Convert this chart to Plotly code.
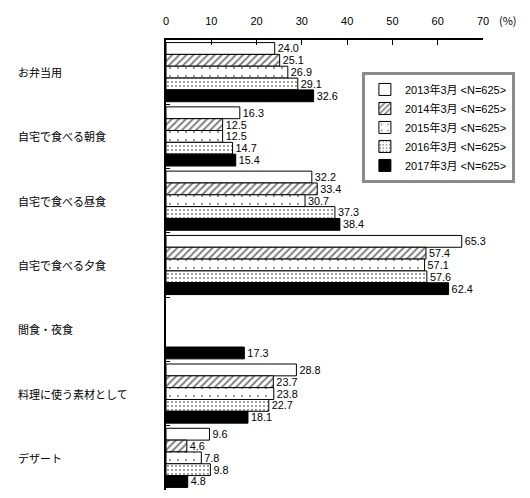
import plotly.graph_objects as go

categories = ["お弁当用", "自宅で食べる朝食", "自宅で食べる昼食", "自宅で食べる夕食",
              "間食・夜食", "料理に使う素材として", "デザート"]
series_names = ["2013年3月 <N=625>", "2014年3月 <N=625>", "2015年3月 <N=625>",
                "2016年3月 <N=625>", "2017年3月 <N=625>"]
v2013 = [24.0, 16.3, 32.2, 65.3, None, 28.8, 9.6]
v2014 = [25.1, 12.5, 33.4, 57.4, None, 23.7, 4.6]
v2015 = [26.9, 12.5, 30.7, 57.1, None, 23.8, 7.8]
v2016 = [29.1, 14.7, 37.3, 57.6, None, 22.7, 9.8]
v2017 = [32.6, 15.4, 38.4, 62.4, 17.3, 18.1, 4.8]
x_ticks = [0, 10, 20, 30, 40, 50, 60, 70]

values = [v2013, v2014, v2015, v2016, v2017]
patterns = [
    dict(shape=""),
    dict(shape="/", fgcolor="black", bgcolor="white", size=5, solidity=0.4),
    dict(shape=".", fgcolor="black", bgcolor="white", size=8, solidity=0.06),
    dict(shape=".", fgcolor="black", bgcolor="white", size=4, solidity=0.18),
    dict(shape=""),
]
colors = ["white", "white", "white", "white", "black"]

fig = go.Figure()
for name, vals, pat, col in zip(series_names, values, patterns, colors):
    fig.add_trace(go.Bar(
        y=categories, x=vals, name=name, orientation="h",
        marker=dict(color=col, line=dict(color="black", width=1), pattern=pat),
        text=[None if v is None else f"{v:.1f}" for v in vals],
        textposition="outside", cliponaxis=False,
        textfont=dict(size=11, color="black", family="Liberation Sans, Noto Sans CJK JP"),
    ))

for c in categories:
    fig.add_annotation(x=-0.473, xref="paper", y=c, yref="y", text=c,
                       xanchor="left", showarrow=False,
                       font=dict(size=11, color="black", family="Noto Sans CJK JP"))
fig.add_annotation(x=1.045, xref="paper", y=1.0, yref="paper", yshift=20, text="(%)",
                   xanchor="left", yanchor="middle", showarrow=False,
                   font=dict(size=11, color="black", family="Noto Sans CJK JP"))

fig.update_layout(
    width=530, height=498,
    margin=dict(l=166, r=47, t=40, b=8),
    paper_bgcolor="white", plot_bgcolor="white",
    barmode="group", bargap=0.08, bargroupgap=0,
    font=dict(family="Liberation Sans, Noto Sans CJK JP", size=11, color="black"),
    showlegend=True,
    legend=dict(x=0.618, y=0.929, xanchor="left", yanchor="top",
                bordercolor="#8a8a8a", borderwidth=3, bgcolor="white",
                font=dict(size=11, family="Liberation Sans, Noto Sans CJK JP"),
                traceorder="normal", itemwidth=30),
    xaxis=dict(side="top", range=[0, 70], tickvals=x_ticks, showgrid=False,
               zeroline=False, showline=True, linecolor="black", linewidth=1.5,
               ticks="inside", ticklen=5, tickcolor="black",
               ticklabelstandoff=9,
               tickfont=dict(size=11), fixedrange=True),
    yaxis=dict(autorange="reversed", showticklabels=False, showgrid=False,
               showline=True, linecolor="black", linewidth=1.5,
               ticks="inside", ticklen=4, tickson="boundaries", tickcolor="black"),
)

fig.write_html("out.html")
